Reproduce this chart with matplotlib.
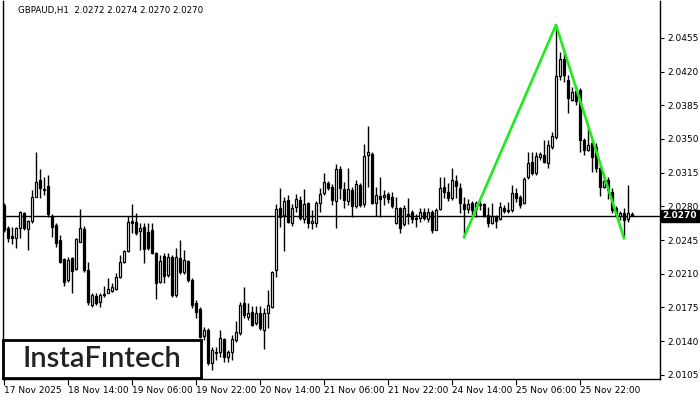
import matplotlib
matplotlib.use("Agg")
import matplotlib.pyplot as plt
import matplotlib.transforms as mtransforms

# hourly GBPAUD candles
opens = [2.0281, 2.0258, 2.0249, 2.0247, 2.0258, 2.0273, 2.0256, 2.0265, 2.0290, 2.0307,
         2.0297, 2.0301, 2.0270, 2.0261, 2.0245, 2.0225, 2.0203, 2.0226, 2.0215, 2.0243,
         2.0256, 2.0214, 2.0177, 2.0187, 2.0181, 2.0188, 2.0190, 2.0192, 2.0194, 2.0207,
         2.0222, 2.0234, 2.0265, 2.0264, 2.0254, 2.0259, 2.0253, 2.0255, 2.0232, 2.0201,
         2.0228, 2.0209, 2.0227, 2.0188, 2.0226, 2.0212, 2.0223, 2.0203, 2.0180, 2.0173,
         2.0145, 2.0152, 2.0117, 2.0128, 2.0129, 2.0142, 2.0123, 2.0129, 2.0141, 2.0148,
         2.0180, 2.0165, 2.0170, 2.0159, 2.0169, 2.0152, 2.0169, 2.0175, 2.0214, 2.0278,
         2.0271, 2.0287, 2.0263, 2.0279, 2.0287, 2.0267, 2.0284, 2.0263, 2.0263, 2.0284,
         2.0294, 2.0304, 2.0300, 2.0286, 2.0319, 2.0298, 2.0286, 2.0297, 2.0280, 2.0302,
         2.0282, 2.0333, 2.0334, 2.0284, 2.0291, 2.0290, 2.0293, 2.0290, 2.0263, 2.0278,
         2.0262, 2.0272, 2.0274, 2.0267, 2.0268, 2.0274, 2.0267, 2.0274, 2.0255, 2.0277,
         2.0300, 2.0295, 2.0289, 2.0306, 2.0299, 2.0282, 2.0277, 2.0284, 2.0277, 2.0281,
         2.0282, 2.0271, 2.0263, 2.0269, 2.0267, 2.0278, 2.0275, 2.0276, 2.0294, 2.0290,
         2.0284, 2.0310, 2.0326, 2.0315, 2.0331, 2.0333, 2.0325, 2.0342, 2.0352, 2.0415,
         2.0433, 2.0411, 2.0391, 2.0400, 2.0401, 2.0349, 2.0339, 2.0346, 2.0342, 2.0320,
         2.0300, 2.0307, 2.0295, 2.0278, 2.0270, 2.0273, 2.0267, 2.0272]
highs = [2.0284, 2.0260, 2.0259, 2.0259, 2.0275, 2.0274, 2.0266, 2.0297, 2.0337, 2.0319,
         2.0310, 2.0313, 2.0272, 2.0263, 2.0250, 2.0226, 2.0227, 2.0227, 2.0247, 2.0277,
         2.0260, 2.0222, 2.0190, 2.0190, 2.0190, 2.0197, 2.0206, 2.0200, 2.0211, 2.0229,
         2.0235, 2.0270, 2.0282, 2.0273, 2.0263, 2.0263, 2.0263, 2.0263, 2.0233, 2.0229,
         2.0232, 2.0232, 2.0229, 2.0237, 2.0245, 2.0235, 2.0224, 2.0206, 2.0183, 2.0175,
         2.0155, 2.0154, 2.0134, 2.0134, 2.0151, 2.0143, 2.0131, 2.0146, 2.0161, 2.0181,
         2.0196, 2.0180, 2.0176, 2.0176, 2.0176, 2.0174, 2.0193, 2.0213, 2.0282, 2.0299,
         2.0290, 2.0292, 2.0282, 2.0293, 2.0291, 2.0298, 2.0285, 2.0276, 2.0286, 2.0299,
         2.0315, 2.0306, 2.0303, 2.0324, 2.0322, 2.0305, 2.0320, 2.0300, 2.0307, 2.0304,
         2.0345, 2.0363, 2.0336, 2.0300, 2.0310, 2.0297, 2.0295, 2.0295, 2.0290, 2.0279,
         2.0281, 2.0289, 2.0276, 2.0272, 2.0278, 2.0278, 2.0278, 2.0276, 2.0278, 2.0311,
         2.0310, 2.0304, 2.0320, 2.0313, 2.0304, 2.0290, 2.0288, 2.0286, 2.0286, 2.0287,
         2.0284, 2.0279, 2.0284, 2.0271, 2.0285, 2.0281, 2.0285, 2.0302, 2.0299, 2.0292,
         2.0311, 2.0336, 2.0336, 2.0337, 2.0337, 2.0349, 2.0349, 2.0357, 2.0467, 2.0440,
         2.0440, 2.0417, 2.0404, 2.0405, 2.0403, 2.0351, 2.0362, 2.0350, 2.0346, 2.0322,
         2.0310, 2.0311, 2.0299, 2.0280, 2.0275, 2.0278, 2.0302, 2.0274]
lows = [2.0253, 2.0243, 2.0241, 2.0237, 2.0247, 2.0255, 2.0235, 2.0263, 2.0290, 2.0289,
        2.0292, 2.0269, 2.0248, 2.0238, 2.0221, 2.0197, 2.0201, 2.0190, 2.0214, 2.0243,
        2.0212, 2.0177, 2.0175, 2.0177, 2.0175, 2.0186, 2.0190, 2.0191, 2.0193, 2.0206,
        2.0221, 2.0233, 2.0252, 2.0250, 2.0235, 2.0221, 2.0235, 2.0230, 2.0184, 2.0200,
        2.0200, 2.0207, 2.0186, 2.0186, 2.0210, 2.0210, 2.0201, 2.0174, 2.0164, 2.0143,
        2.0141, 2.0115, 2.0110, 2.0120, 2.0123, 2.0118, 2.0118, 2.0120, 2.0139, 2.0146,
        2.0164, 2.0162, 2.0156, 2.0157, 2.0152, 2.0132, 2.0154, 2.0174, 2.0207, 2.0259,
        2.0234, 2.0263, 2.0260, 2.0274, 2.0266, 2.0263, 2.0258, 2.0256, 2.0259, 2.0274,
        2.0292, 2.0297, 2.0281, 2.0258, 2.0288, 2.0278, 2.0281, 2.0269, 2.0278, 2.0279,
        2.0279, 2.0300, 2.0282, 2.0270, 2.0269, 2.0281, 2.0283, 2.0278, 2.0262, 2.0252,
        2.0260, 2.0262, 2.0263, 2.0259, 2.0264, 2.0266, 2.0264, 2.0252, 2.0255, 2.0276,
        2.0289, 2.0286, 2.0287, 2.0289, 2.0273, 2.0248, 2.0273, 2.0271, 2.0269, 2.0276,
        2.0269, 2.0259, 2.0262, 2.0258, 2.0266, 2.0273, 2.0273, 2.0274, 2.0285, 2.0278,
        2.0282, 2.0308, 2.0313, 2.0313, 2.0328, 2.0325, 2.0320, 2.0340, 2.0350, 2.0411,
        2.0409, 2.0377, 2.0389, 2.0385, 2.0337, 2.0333, 2.0338, 2.0316, 2.0316, 2.0291,
        2.0299, 2.0288, 2.0273, 2.0269, 2.0266, 2.0248, 2.0264, 2.0270]
closes = [2.0255, 2.0247, 2.0247, 2.0258, 2.0274, 2.0258, 2.0265, 2.0290, 2.0305, 2.0299,
          2.0298, 2.0272, 2.0259, 2.0242, 2.0222, 2.0201, 2.0224, 2.0213, 2.0246, 2.0258,
          2.0214, 2.0181, 2.0188, 2.0180, 2.0188, 2.0189, 2.0194, 2.0196, 2.0207, 2.0222,
          2.0234, 2.0264, 2.0263, 2.0252, 2.0258, 2.0236, 2.0237, 2.0232, 2.0200, 2.0223,
          2.0208, 2.0227, 2.0188, 2.0227, 2.0212, 2.0224, 2.0203, 2.0177, 2.0170, 2.0144,
          2.0151, 2.0117, 2.0131, 2.0129, 2.0143, 2.0123, 2.0129, 2.0142, 2.0149, 2.0178,
          2.0167, 2.0169, 2.0157, 2.0169, 2.0154, 2.0169, 2.0177, 2.0212, 2.0277, 2.0269,
          2.0286, 2.0264, 2.0278, 2.0288, 2.0268, 2.0282, 2.0263, 2.0265, 2.0284, 2.0293,
          2.0305, 2.0299, 2.0287, 2.0319, 2.0299, 2.0287, 2.0298, 2.0280, 2.0303, 2.0281,
          2.0332, 2.0336, 2.0284, 2.0292, 2.0288, 2.0292, 2.0288, 2.0280, 2.0278, 2.0258,
          2.0278, 2.0271, 2.0267, 2.0268, 2.0274, 2.0268, 2.0274, 2.0255, 2.0276, 2.0299,
          2.0295, 2.0289, 2.0307, 2.0301, 2.0284, 2.0277, 2.0282, 2.0276, 2.0284, 2.0282,
          2.0270, 2.0263, 2.0270, 2.0265, 2.0279, 2.0275, 2.0276, 2.0294, 2.0289, 2.0281,
          2.0308, 2.0325, 2.0315, 2.0332, 2.0334, 2.0326, 2.0344, 2.0353, 2.0415, 2.0433,
          2.0416, 2.0393, 2.0399, 2.0389, 2.0349, 2.0339, 2.0344, 2.0331, 2.0320, 2.0300,
          2.0306, 2.0297, 2.0276, 2.0271, 2.0273, 2.0266, 2.0273, 2.0270]

# pattern (green) pivots: bar index and price
pattern_idx = [115, 138, 155]
pattern_px = [2.0248, 2.04685, 2.0247]

last_price = 2.0270
price_ticks = [2.0105, 2.0140, 2.0175, 2.0210, 2.0245, 2.0280, 2.0315, 2.0350, 2.0385, 2.0420, 2.0455]
time_tick_idx = [0, 16, 32, 48, 64, 80, 96, 112, 128, 144]
time_labels = ["17 Nov 2025", "18 Nov 14:00", "19 Nov 06:00", "19 Nov 22:00", "20 Nov 14:00",
               "21 Nov 06:00", "21 Nov 22:00", "24 Nov 14:00", "25 Nov 06:00", "25 Nov 22:00"]

fig = plt.figure(figsize=(7, 4), dpi=100, facecolor="white")
ax = fig.add_axes([3/700, 21/400, 657/700, 378/400])
ax.set_facecolor("white")

idx = list(range(len(opens)))
# wicks
ax.vlines(idx, lows, highs, color="black", linewidth=1.0, zorder=2)
# bodies
bottoms = [min(o, c) for o, c in zip(opens, closes)]
heights = [abs(c - o) for o, c in zip(opens, closes)]
colors = ["white" if c >= o else "black" for o, c in zip(opens, closes)]
ax.bar(idx, heights, bottom=bottoms, width=0.55, color=colors,
       edgecolor="black", linewidth=0.9, zorder=3)

# current price line
ax.axhline(last_price, color="black", linewidth=1.0, zorder=1)

# pattern lines
ax.plot(pattern_idx, pattern_px, color="#1eea1e", linewidth=1.9, zorder=4)

ax.set_xlim(-0.25, 164.0)
ax.set_ylim(2.01006, 2.04934)

ax.spines["top"].set_visible(False)
for s in ["left", "right", "bottom"]:
    ax.spines[s].set_linewidth(1.0)

ax.yaxis.tick_right()
ax.set_yticks(price_ticks)
ax.set_yticklabels(["%.4f" % p for p in price_ticks])
ax.tick_params(axis="y", direction="out", length=3, width=0.8, pad=2, labelsize=6.5)
ax.set_xticks(time_tick_idx)
ax.set_xticklabels(time_labels)
ax.tick_params(axis="x", direction="out", length=4, width=0.8, pad=1, labelsize=6.5)
for lab in ax.get_xticklabels():
    lab.set_horizontalalignment("left")

# price box on the right axis
trans = mtransforms.blended_transform_factory(ax.transAxes, ax.transData)
ax.text(1.004, last_price, "%.4f" % last_price, transform=trans, fontsize=6.5,
        color="white", va="center", ha="left", fontweight="bold",
        bbox=dict(boxstyle="square,pad=0.2", facecolor="black", edgecolor="black"))

# header
fig.text(18/700, 1 - 11/400, "GBPAUD,H1  2.0272 2.0274 2.0270 2.0270",
         fontsize=6.2, va="center", ha="left", color="black")

# logo box
logo = fig.add_axes([3/700, 22/400, 198/700, 38/400])
logo.set_facecolor("white")
logo.set_xticks([])
logo.set_yticks([])
for s in logo.spines.values():
    s.set_linewidth(2.0)
    s.set_color("black")
logo.text(0.5, 0.5, "InstaF\u0131ntech", fontsize=21, family="Lato", fontweight="semibold",
          color="#222222", ha="center", va="center", transform=logo.transAxes)

fig.savefig("out.png", dpi=100, facecolor="white")
